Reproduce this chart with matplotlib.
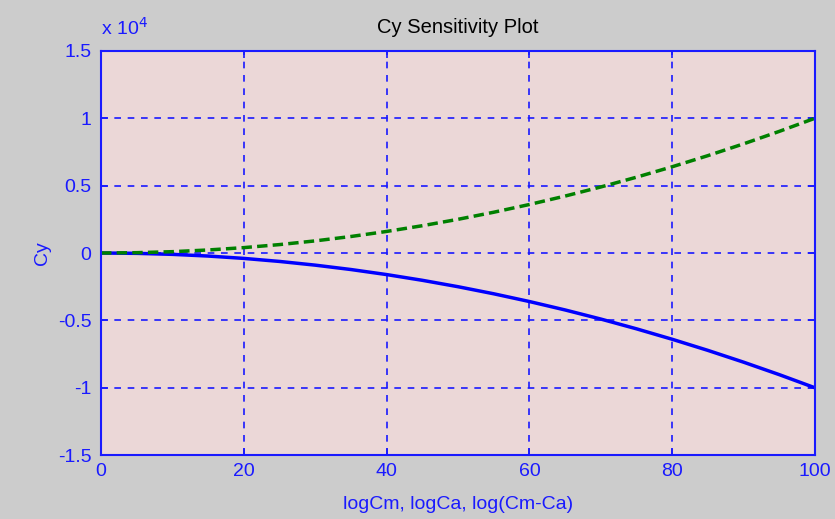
import numpy as np
import matplotlib.pyplot as plt

plt.rcParams['font.family'] = ['Liberation Sans', 'DejaVu Sans']

# valores (x en unidades log, Cy en unidades de 1e4)
x = [0, 5, 10, 15, 20, 25, 30, 35, 40, 45, 50,
     55, 60, 65, 70, 75, 80, 85, 90, 95, 100]
cy_sup = [0.0, 0.0025, 0.01, 0.0225, 0.04, 0.0625, 0.09, 0.1225, 0.16, 0.2025, 0.25,
          0.3025, 0.36, 0.4225, 0.49, 0.5625, 0.64, 0.7225, 0.81, 0.9025, 1.0]
cy_inf = [0.0, -0.0025, -0.01, -0.0225, -0.04, -0.0625, -0.09, -0.1225, -0.16, -0.2025, -0.25,
          -0.3025, -0.36, -0.4225, -0.49, -0.5625, -0.64, -0.7225, -0.81, -0.9025, -1.0]
xticks = [0, 20, 40, 60, 80, 100]
yticks = [-1.5, -1, -0.5, 0, 0.5, 1, 1.5]
ytick_lbl = ['-1.5', '-1', '-0.5', '0', '0.5', '1', '1.5']

azul = '#1a1aff'

fig = plt.figure(figsize=(8.35, 5.19), dpi=100, facecolor='#cccccc')
ax = fig.add_axes([0.121, 0.123, 0.855, 0.779])
ax.set_facecolor('#ebd7d7')

ax.plot(x, np.array(cy_inf), color='#0000ff', lw=2.5, solid_capstyle='butt')
ax.plot(x, np.array(cy_sup), color='#008000', lw=2.5, ls=(0, (3, 1.5)))

ax.set_xlim(0, 100)
ax.set_ylim(-1.5, 1.5)
ax.set_xticks(xticks)
ax.set_yticks(yticks)
ax.set_yticklabels(ytick_lbl)
ax.grid(True, color=azul, ls=(0, (4, 4)), lw=1.2)

for s in ax.spines.values():
    s.set_color(azul)
    s.set_linewidth(1.5)
ax.tick_params(colors=azul, labelsize=14, direction='in', length=5, width=1.2,
               top=True, right=True)
ax.tick_params(axis='y', pad=7)
ax.tick_params(axis='x', pad=6)

ax.set_title('Cy Sensitivity Plot', fontsize=14.5, color='black', pad=13)
ax.set_xlabel('logCm, logCa, log(Cm-Ca)', fontsize=14, color=azul, labelpad=11)
ax.set_ylabel('Cy', fontsize=14, color=azul, labelpad=5)
ax.text(0.0, 1.03, r'x 10$^{4}$', transform=ax.transAxes, color=azul, fontsize=14,
        ha='left', va='bottom')

fig.savefig('out.png', dpi=100, facecolor=fig.get_facecolor())
